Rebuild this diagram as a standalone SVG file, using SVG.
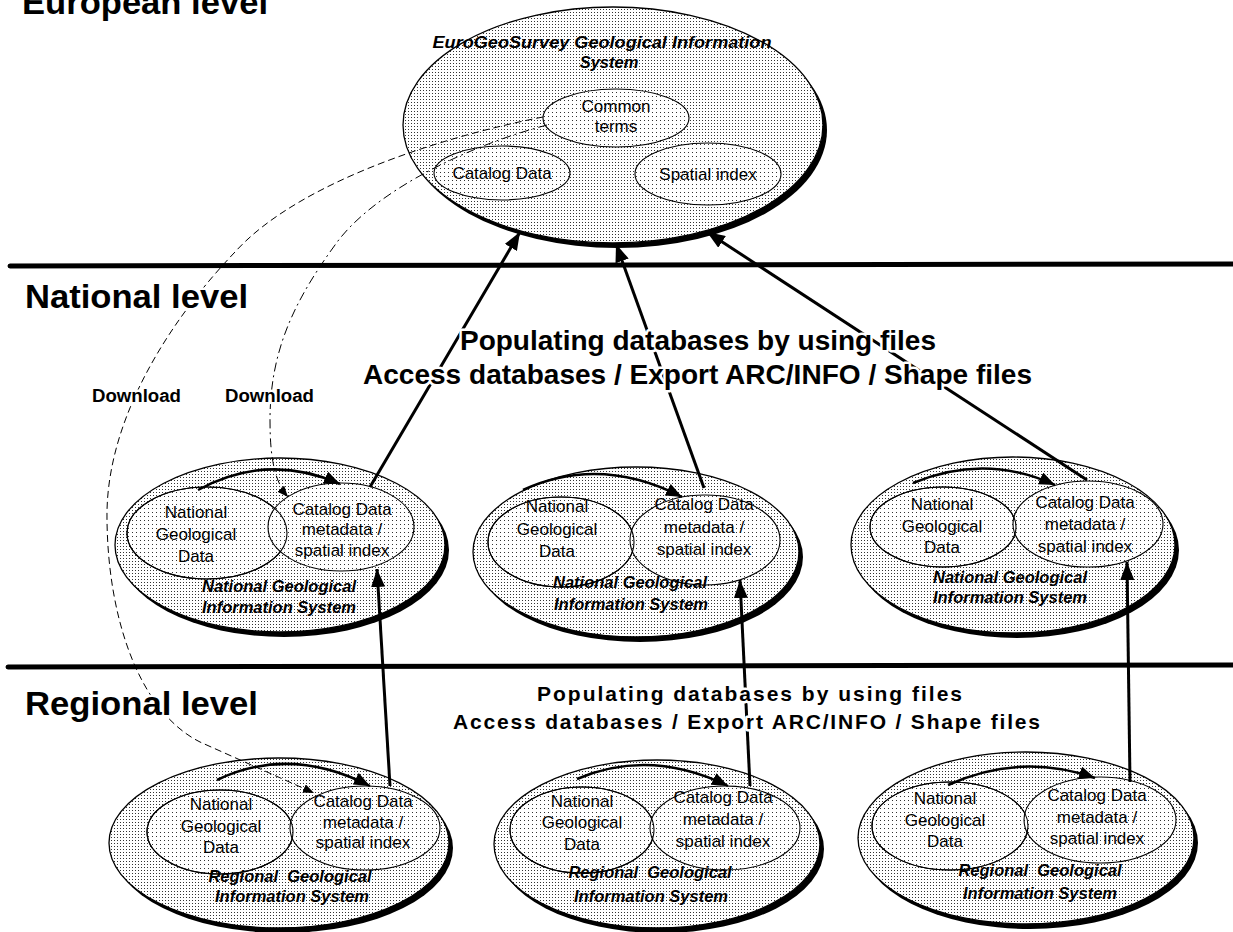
<svg xmlns="http://www.w3.org/2000/svg" width="1233" height="932" viewBox="0 0 1233 932">
<defs>
<pattern id="dots" width="3" height="3" patternUnits="userSpaceOnUse"><rect width="3" height="3" fill="#fff"/><rect width="1" height="1" fill="#333"/></pattern>
<pattern id="dots2" width="4" height="4" patternUnits="userSpaceOnUse"><rect width="4" height="4" fill="#fff"/><rect width="1" height="1" fill="#333"/></pattern>
<marker id="ah" markerUnits="userSpaceOnUse" markerWidth="20" markerHeight="14" refX="18" refY="7" orient="auto"><path d="M0,0 L18,7 L0,14 z" fill="#000"/></marker>
<marker id="ah2" markerUnits="userSpaceOnUse" markerWidth="17" markerHeight="13" refX="16" refY="6.5" orient="auto"><path d="M0,0 L16,6.5 L0,13 z" fill="#000"/></marker>
<marker id="ah3" markerUnits="userSpaceOnUse" markerWidth="12" markerHeight="9" refX="11" refY="4.5" orient="auto"><path d="M0,0 L11,4.5 L0,9 z" fill="#000"/></marker>
<style>
.outer{fill:url(#dots);stroke:#000;stroke-width:1.3}
.shadow{fill:#000}
.inner{fill:url(#dots2);stroke:#000;stroke-width:1.1}
.edge{fill:none;stroke:#000;stroke-width:1.1}
text{font-family:"Liberation Sans",Arial,sans-serif;fill:#000}
.t{font-size:17px;text-anchor:middle}
.ti{font-size:16.5px;font-weight:bold;font-style:italic;text-anchor:middle}
.pre{white-space:pre}
.lvl{font-size:34px;font-weight:bold}
.pop{font-size:28px;font-weight:bold}
.popr{font-size:21px;font-weight:bold}
.dl{font-size:18px;font-weight:bold}
.halo{stroke:#fff;stroke-width:5;stroke-linejoin:round;paint-order:stroke}
.sep{stroke:#000;stroke-width:5;stroke-linecap:round}
.arr{fill:none;stroke:#000;stroke-width:3;marker-end:url(#ah)}
.arc{fill:none;stroke:#000;stroke-width:2.5;marker-end:url(#ah2)}
.dlA{fill:none;stroke:#000;stroke-width:1;stroke-dasharray:7 4;marker-end:url(#ah3)}
.dlB{fill:none;stroke:#000;stroke-width:1;stroke-dasharray:9 4 2 4;marker-end:url(#ah3)}
</style>
</defs>
<rect width="1233" height="932" fill="#fff"/>

<g id="separators">
<line class="sep" x1="10" y1="266" x2="1233" y2="264"/>
<line class="sep" x1="8" y1="667" x2="1233" y2="665"/>
</g>

<g id="eurogis">
<ellipse class="shadow" cx="617" cy="130" rx="210" ry="118"/>
<ellipse class="outer" cx="613" cy="125" rx="210" ry="118"/>
<text class="ti" x="602" y="48" font-size="18" textLength="339" lengthAdjust="spacingAndGlyphs">EuroGeoSurvey Geological Information</text>
<text class="ti" x="609" y="68" font-size="18">System</text>
<ellipse class="inner" cx="616" cy="118" rx="73" ry="29"/>
<text class="t" x="616" y="112">Common</text>
<text class="t" x="616" y="132">terms</text>
<ellipse class="inner" cx="502" cy="173" rx="68" ry="27"/>
<text class="t" x="502" y="179">Catalog Data</text>
<ellipse class="inner" cx="708" cy="174" rx="73" ry="31"/>
<text class="t" x="708" y="180">Spatial index</text>
</g>

<g id="nat-left">
<ellipse class="shadow" cx="284" cy="550" rx="165" ry="87"/>
<ellipse class="outer" cx="280" cy="545" rx="165" ry="87"/>
<ellipse class="inner" cx="207" cy="533" rx="80" ry="46"/>
<ellipse class="inner" cx="341" cy="527" rx="73" ry="44"/>
<ellipse class="edge" cx="207" cy="533" rx="80" ry="46"/>
<text class="t" x="196" y="518">National</text>
<text class="t" x="196" y="540">Geological</text>
<text class="t" x="196" y="562">Data</text>
<text class="t" x="342" y="515">Catalog Data</text>
<text class="t" x="342" y="535">metadata /</text>
<text class="t" x="342" y="556">spatial index</text>
<text class="ti" x="279" y="592">National Geological</text>
<text class="ti" x="279" y="613">Information System</text>
</g>

<g id="nat-center">
<ellipse class="shadow" cx="640" cy="557" rx="163" ry="85"/>
<ellipse class="outer" cx="636" cy="552" rx="163" ry="85"/>
<ellipse class="inner" cx="561" cy="542" rx="73" ry="45"/>
<ellipse class="inner" cx="705" cy="540" rx="75" ry="45"/>
<ellipse class="edge" cx="561" cy="542" rx="73" ry="45"/>
<text class="t" x="557" y="512">National</text>
<text class="t" x="557" y="535">Geological</text>
<text class="t" x="557" y="557">Data</text>
<text class="t" x="704" y="510">Catalog Data</text>
<text class="t" x="704" y="533">metadata /</text>
<text class="t" x="704" y="555">spatial index</text>
<text class="ti" x="630" y="588">National Geological</text>
<text class="ti" x="631" y="610">Information System</text>
</g>

<g id="nat-right">
<ellipse class="shadow" cx="1017" cy="550" rx="162" ry="88"/>
<ellipse class="outer" cx="1013" cy="545" rx="162" ry="88"/>
<ellipse class="inner" cx="943" cy="527" rx="73" ry="40"/>
<ellipse class="inner" cx="1088" cy="524" rx="75" ry="43"/>
<ellipse class="edge" cx="943" cy="527" rx="73" ry="40"/>
<text class="t" x="942" y="510">National</text>
<text class="t" x="942" y="532">Geological</text>
<text class="t" x="942" y="553">Data</text>
<text class="t" x="1085" y="508">Catalog Data</text>
<text class="t" x="1085" y="530">metadata /</text>
<text class="t" x="1085" y="552">spatial index</text>
<text class="ti" x="1010" y="583">National Geological</text>
<text class="ti" x="1010" y="603">Information System</text>
</g>

<g id="reg-left">
<ellipse class="shadow" cx="283" cy="848" rx="170" ry="85"/>
<ellipse class="outer" cx="279" cy="843" rx="170" ry="85"/>
<ellipse class="inner" cx="220" cy="832" rx="73" ry="42"/>
<ellipse class="inner" cx="365" cy="828" rx="75" ry="42"/>
<ellipse class="edge" cx="220" cy="832" rx="73" ry="42"/>
<text class="t" x="221" y="810">National</text>
<text class="t" x="221" y="832">Geological</text>
<text class="t" x="221" y="853">Data</text>
<text class="t" x="363" y="807">Catalog Data</text>
<text class="t" x="363" y="828">metadata /</text>
<text class="t" x="363" y="848">spatial index</text>
<text class="ti pre" x="290" y="882">Regional  Geological</text>
<text class="ti" x="292" y="902">Information System</text>
</g>

<g id="reg-center">
<ellipse class="shadow" cx="661" cy="849" rx="163" ry="84"/>
<ellipse class="outer" cx="657" cy="844" rx="163" ry="84"/>
<ellipse class="inner" cx="582" cy="830" rx="72" ry="43"/>
<ellipse class="inner" cx="725" cy="828" rx="75" ry="42"/>
<ellipse class="edge" cx="582" cy="830" rx="72" ry="43"/>
<text class="t" x="582" y="807">National</text>
<text class="t" x="582" y="828">Geological</text>
<text class="t" x="582" y="850">Data</text>
<text class="t" x="723" y="803">Catalog Data</text>
<text class="t" x="723" y="825">metadata /</text>
<text class="t" x="723" y="847">spatial index</text>
<text class="ti pre" x="650" y="878">Regional  Geological</text>
<text class="ti" x="651" y="902">Information System</text>
</g>

<g id="reg-right">
<ellipse class="shadow" cx="1030" cy="843" rx="168" ry="86"/>
<ellipse class="outer" cx="1026" cy="838" rx="168" ry="86"/>
<ellipse class="inner" cx="950" cy="826" rx="78" ry="44"/>
<ellipse class="inner" cx="1100" cy="820" rx="76" ry="43"/>
<ellipse class="edge" cx="950" cy="826" rx="78" ry="44"/>
<text class="t" x="945" y="804">National</text>
<text class="t" x="945" y="826">Geological</text>
<text class="t" x="945" y="847">Data</text>
<text class="t" x="1097" y="801">Catalog Data</text>
<text class="t" x="1097" y="823">metadata /</text>
<text class="t" x="1097" y="844">spatial index</text>
<text class="ti pre" x="1040" y="876">Regional  Geological</text>
<text class="ti" x="1040" y="899">Information System</text>
</g>

<g id="connectors">
<path class="arr" d="M370,487 L520,232"/>
<path class="arr" d="M704,488 L616,244"/>
<path class="arr" d="M1087,480 L707,232"/>
<path class="arr" d="M390,786 L377,569"/>
<path class="arr" d="M750,786 L740,580"/>
<path class="arr" d="M1130,782 L1127,562"/>
<path class="arc" d="M198,490 Q268,452 340,484"/>
<path class="arc" d="M523,490 Q600,455 682,497"/>
<path class="arc" d="M913,483 Q985,453 1055,485"/>
<path class="arc" d="M217,780 Q290,745 370,786"/>
<path class="arc" d="M577,779 Q650,748 728,786"/>
<path class="arc" d="M948,785 Q1020,752 1095,778"/>
<path class="dlA" d="M543,117 C450,135 300,180 235,252 C170,320 105,420 107,520 C108,620 140,712 200,742 L314,793"/>
<path class="dlB" d="M547,125 C460,148 370,195 335,245 C295,300 270,350 270,420 C270,460 275,482 288,497"/>
</g>

<g id="labels">
<text class="lvl halo" x="22" y="14" textLength="246" lengthAdjust="spacingAndGlyphs">European level</text>
<text class="lvl halo" x="25" y="308" textLength="223" lengthAdjust="spacingAndGlyphs">National level</text>
<text class="lvl halo" x="25" y="715" textLength="233" lengthAdjust="spacingAndGlyphs">Regional level</text>
<text class="dl halo" x="92" y="402" textLength="89" lengthAdjust="spacingAndGlyphs">Download</text>
<text class="dl halo" x="225" y="402" textLength="89" lengthAdjust="spacingAndGlyphs">Download</text>
<text class="pop halo" x="460" y="350" textLength="476" lengthAdjust="spacingAndGlyphs">Populating databases by using files</text>
<text class="pop halo" x="363" y="384" textLength="669" lengthAdjust="spacingAndGlyphs">Access databases / Export ARC/INFO / Shape files</text>
<text class="popr halo" x="537" y="701" textLength="425" lengthAdjust="spacing">Populating databases by using files</text>
<text class="popr halo" x="453" y="729" textLength="587" lengthAdjust="spacing">Access databases / Export ARC/INFO / Shape files</text>
</g>
</svg>
